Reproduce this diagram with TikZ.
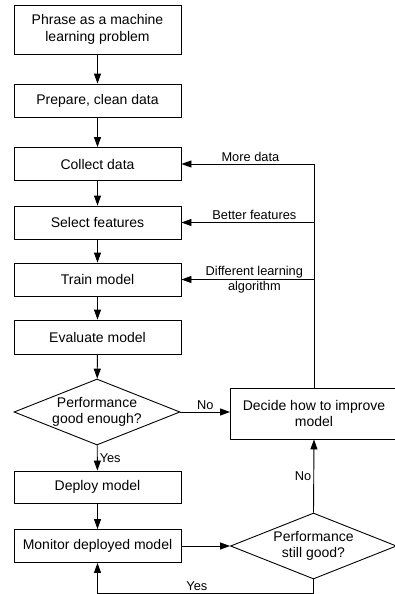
\documentclass[tikz,border=0pt]{standalone}
\usepackage{fontspec}
\setmainfont{Liberation Sans}
\usetikzlibrary{shapes.geometric,arrows.meta}

\begin{document}
\begin{tikzpicture}[x=1pt,y=-1pt,
        line width=0.9pt,
        box/.style={draw,rectangle,minimum width=167pt,minimum height=33pt,align=center,
            font=\fontsize{14}{16.7}\selectfont},
        decision/.style={draw,diamond,aspect=2.5,inner sep=0pt,minimum width=166pt,
            minimum height=66pt,align=center,font=\fontsize{14}{16.7}\selectfont},
        lbl/.style={font=\fontsize{12.8}{14.6}\selectfont,align=center,inner sep=2pt},
        flow/.style={-{Triangle[length=10pt,width=7pt]}}]
    \useasboundingbox (0,0) rectangle (394,594);
    % main column
    \node [box,minimum height=49pt] (phrase) at (97.5,29.5) {Phrase as a machine\\learning problem};
    \node [box] (prepare) at (97.5,100.5) {Prepare, clean data};
    \node [box] (collect) at (97.5,164) {Collect data};
    \node [box] (select) at (97.5,222.5) {Select features};
    \node [box] (train) at (97.5,279.5) {Train model};
    \node [box,minimum height=34pt] (evaluate) at (97.5,337) {Evaluate model};
    \node [decision] (good) at (97,412) {Performance\\good enough?};
    \node [box,minimum height=32pt] (deploy) at (97.5,487) {Deploy model};
    \node [box] (monitor) at (97.5,546) {Monitor deployed model};
    % right column
    \node [box,minimum height=51pt] (improve) at (314,413.5) {Decide how to improve\\model};
    \node [decision] (still) at (313.5,546) {Performance\\still good?};
    \coordinate (fb) at (improve.north |- collect.east);
    \coordinate (loop) at (still.south |- 0,593);
    % arrows
    \draw [flow] (phrase) -- (prepare);
    \draw [flow] (prepare) -- (collect);
    \draw [flow] (collect) -- (select);
    \draw [flow] (select) -- (train);
    \draw [flow] (train) -- (evaluate);
    \draw [flow] (evaluate) -- (good);
    \draw [flow] (good) -- node [lbl,right] {Yes} (deploy);
    \draw [flow] (deploy) -- (monitor);
    \draw [flow] (monitor.east) -- (still.west);
    \draw [flow] (still.north) -- node [lbl,left] {No} (improve.south);
    \draw [flow] (good.east) -- node [lbl,above] {No} (good.east -| improve.west);
    \draw [flow] (improve.north) -- (fb) -- node [lbl,above,pos=0.48] {More data} (collect.east);
    \draw [flow] (select.east -| fb) -- node [lbl,above,pos=0.45] {Better features} (select.east);
    \draw [flow] (train.east -| fb) -- node [lbl,pos=0.45] {Different learning\\algorithm} (train.east);
    \draw [flow] (still.south) -- (loop) -| node [lbl,above,pos=0.27] {Yes} (monitor.south);
\end{tikzpicture}
\end{document}
